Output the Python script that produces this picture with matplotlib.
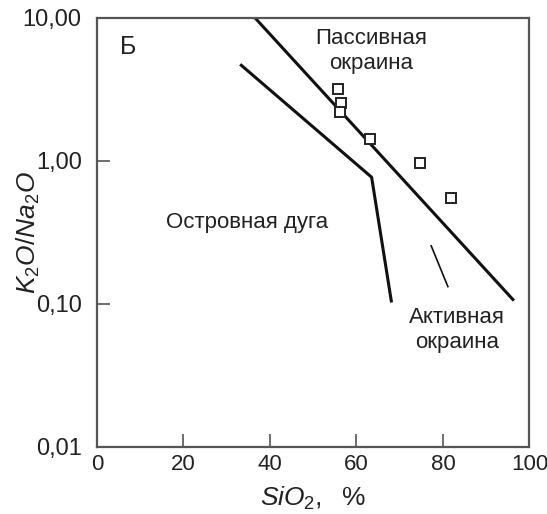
import matplotlib
matplotlib.use("Agg")
import matplotlib.pyplot as plt

plt.rcParams['font.family'] = ['Liberation Sans', 'DejaVu Sans']
plt.rcParams['mathtext.fontset'] = 'custom'
plt.rcParams['mathtext.it'] = 'Liberation Sans:italic'
plt.rcParams['mathtext.rm'] = 'Liberation Sans'

# Discrimination boundaries
passive_x = [36.5, 96.4]
passive_y = [10.0, 0.105]
arc_x = [33.1, 63.5, 68.1]
arc_y = [4.72, 0.766, 0.102]
active_x = [77.2, 81.2]
active_y = [0.257, 0.130]

# Samples
sample_sio2 = [55.7, 56.5, 56.3, 63.1, 74.6, 81.9]
sample_ratio = [3.19, 2.52, 2.18, 1.42, 0.96, 0.548]

xticks = [0, 20, 40, 60, 80, 100]
yticks = [0.01, 0.1, 1.0, 10.0]
ytick_labels = ['0,01', '0,10', '1,00', '10,00']

fig = plt.figure(figsize=(5.47, 5.14), dpi=100)
ax = fig.add_axes([0.1773, 0.131, 0.7907, 0.8346])
ax.set_yscale('log')
ax.set_xlim(0, 100)
ax.set_ylim(0.01, 10)

ax.plot(passive_x, passive_y, color='#111111', lw=2.2, solid_capstyle='butt')
ax.plot(arc_x, arc_y, color='#111111', lw=2.2, solid_capstyle='butt')
ax.plot(active_x, active_y, color='#111111', lw=1.2, solid_capstyle='butt')
ax.plot(sample_sio2, sample_ratio, linestyle='none', marker='s', ms=6.5,
        mfc='white', mec='#222222', mew=1.4)

ax.set_xticks(xticks)
ax.set_xticklabels([str(v) for v in xticks])
ax.set_yticks(yticks)
ax.set_yticklabels(ytick_labels)
ax.yaxis.set_minor_locator(matplotlib.ticker.NullLocator())
ax.tick_params(direction='in', length=9.5, width=1.2, color='#555555',
               labelsize=17, labelcolor='#222222', pad=5)
ax.tick_params(axis='x', labelsize=16)
ax.tick_params(axis='y', pad=11)
for s in ax.spines.values():
    s.set_color('#555555')
    s.set_linewidth(1.6)

ax.set_xlabel(r'$\mathit{SiO_2,\ \ \%}$', fontsize=19, color='#222222')
ax.xaxis.set_label_coords(0.5, -0.088)
ax.set_ylabel(r'$\mathit{K_2O/Na_2O}$', fontsize=19, color='#222222')
ax.yaxis.set_label_coords(-0.128, 0.5)

ax.text(5.3, 6.2, 'Б', fontsize=18, ha='left', va='center', color='#222222')
ax.text(63.4, 5.85, 'Пассивная\nокраина', fontsize=16, ha='center', va='center',
        linespacing=1.2, color='#222222')
ax.text(34.7, 0.372, 'Островная дуга', fontsize=16, ha='center', va='center',
        color='#222222')
ax.text(83.2, 0.0655, 'Активная\nокраина', fontsize=16, ha='center', va='center',
        linespacing=1.2, color='#222222')

fig.savefig('out.png', dpi=100)
